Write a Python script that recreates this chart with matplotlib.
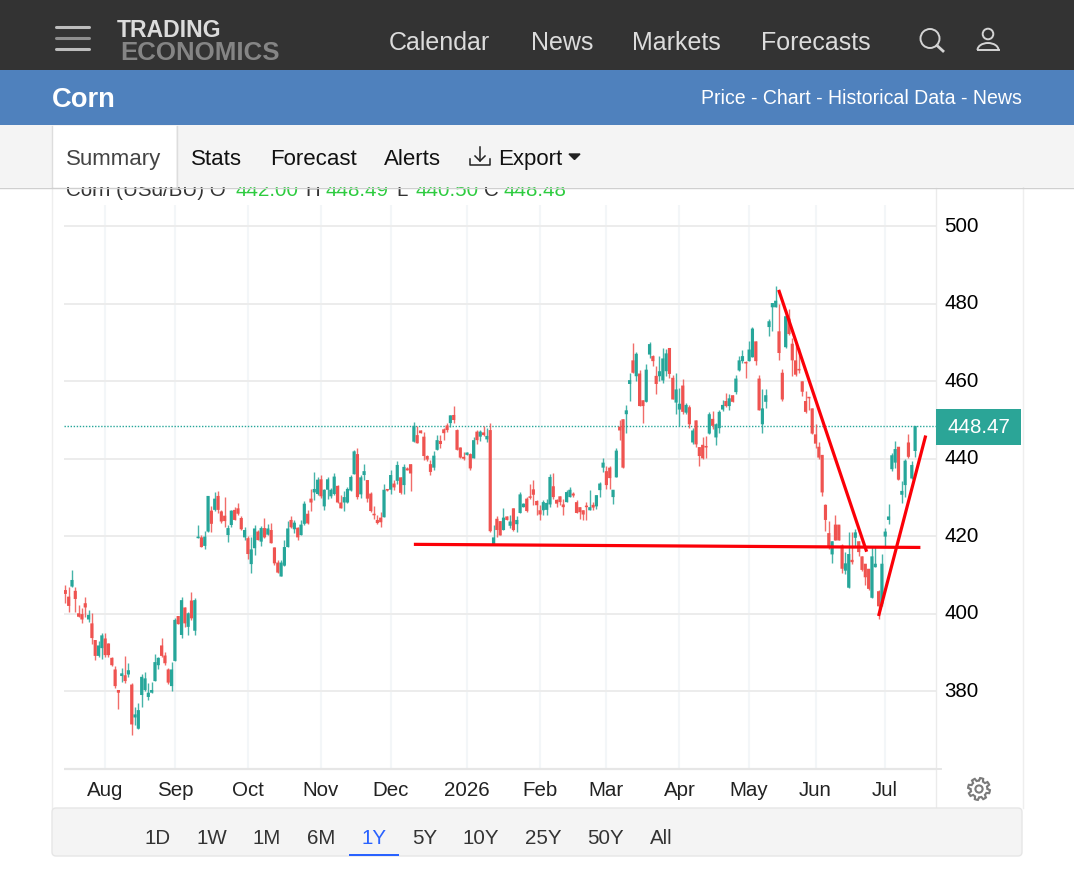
import numpy as np
import matplotlib
matplotlib.use("Agg")
import matplotlib.pyplot as plt
from matplotlib.patches import Rectangle, FancyBboxPatch, Circle, Arc, Polygon
from matplotlib.transforms import ScaledTranslation

plt.rcParams['font.family'] = ['Liberation Sans', 'DejaVu Sans']

#Daily candles
opens = [406.1, 404.4, 407.0, 405.9, 400.1, 399.9, 402.7, 398.5, 397.5, 393.2,
         389.1, 391.1, 393.6, 392.3, 388.6, 385.6, 380.3, 383.9, 384.1, 384.3,
         381.7, 373.2, 370.3, 379.0, 380.3, 378.5, 379.6, 382.6, 386.7, 391.8,
         389.2, 385.6, 381.3, 387.8, 399.4, 394.5, 401.6, 396.6, 403.4, 395.6,
         419.5, 419.7, 417.5, 421.2, 426.6, 426.8, 430.4, 426.4, 425.3, 420.3,
         422.9, 426.8, 427.2, 424.7, 419.7, 419.5, 412.8, 416.9, 421.2, 418.6,
         422.1, 420.4, 421.6, 417.1, 413.2, 409.6, 412.4, 417.2, 424.2, 421.8,
         422.2, 420.3, 423.2, 425.8, 429.7, 431.3, 430.9, 434.7, 427.7, 432.0,
         430.3, 430.9, 433.0, 428.7, 428.7, 428.7, 431.8, 436.0,
         441.2, 430.8, 435.8, 434.5, 431.0, 425.8, 424.2, 424.8, 424.9, 432.0,
         432.0, 433.6, 434.3, 435.2, 433.2, 437.5, 438.6, 444.4, 446.1, 447.3,
         445.7, 440.7, 438.6, 437.7, 442.3, 444.6, 447.6, 448.6, 449.2, 451.3,
         447.4, 442.9, 440.5, 441.0, 441.2, 440.1, 447.0, 445.7, 446.8, 445.0,
         447.4, 417.8, 424.5, 423.9, 421.6, 425.1, 422.7, 427.2, 423.1, 426.0,
         427.5, 429.7, 430.0, 432.1, 429.1, 426.7, 426.7, 426.8, 428.2, 432.9,
         429.4, 430.3, 428.2, 428.8, 430.1, 431.0, 428.8, 427.5, 426.7, 427.7, 426.7,
         428.1, 427.7, 431.9, 437.7, 436.8, 437.7, 430.1, 435.2, 448.3, 450.2,
         451.5, 459.3, 465.4, 461.3, 462.0, 455.1, 454.7, 466.9, 466.5, 461.4,
         461.3, 460.2, 462.6, 468.6, 460.9, 454.5, 452.7, 458.9, 451.9, 453.3,
         444.2, 449.9, 443.0, 443.6, 443.1, 446.5, 450.3, 445.5, 447.9, 452.7,
         454.9, 453.6, 456.4, 457.2, 462.8, 465.2, 464.8, 465.2, 466.2, 470.3,
         460.7, 448.9, 454.7, 474.0, 479.1, 479.1, 472.9, 462.2, 468.8, 476.2,
         469.7, 465.4, 463.0, 460.0, 454.9, 456.0, 453.0, 446.3, 443.1, 441.0,
         428.1, 420.8, 415.3, 423.0, 423.0, 417.6, 411.1, 406.7, 413.9, 419.6,
         418.7, 414.8, 412.9, 411.6, 404.1, 412.0, 405.8, 402.6, 419.9, 424.2,
         437.3, 439.0, 443.1, 430.7, 433.2, 444.2, 434.9, 442.0]
closes = [405.1, 402.0, 408.7, 403.8, 399.2, 398.5, 401.6, 399.7, 393.7, 389.1,
          391.8, 394.4, 389.3, 389.3, 386.7, 381.3, 379.6, 384.6, 382.6, 385.4,
          371.4, 374.0, 375.1, 383.7, 383.3, 379.6, 380.3, 387.5, 388.6, 389.1,
          387.2, 382.2, 385.6, 398.4, 397.3, 403.5, 397.5, 400.1, 398.8, 403.5,
          419.9, 417.2, 419.9, 430.4, 423.2, 429.7, 426.8, 423.8, 423.9, 422.1,
          426.6, 424.2, 425.8, 421.8, 421.6, 415.4, 416.6, 422.0, 419.0, 422.1,
          419.7, 422.0, 418.2, 413.0, 410.6, 413.2, 417.2, 422.0, 422.3, 423.5,
          419.7, 423.0, 428.4, 423.3, 428.7, 432.2, 434.6, 430.3, 432.0, 434.7,
          432.0, 435.4, 428.7, 427.2, 430.1, 432.2, 435.3, 441.9,
          430.1, 435.2, 436.8, 429.7, 426.5, 425.4, 423.4, 423.6, 432.0, 431.8,
          435.8, 432.6, 438.4, 431.2, 437.9, 437.0, 436.2, 448.5, 444.0, 446.6,
          440.7, 439.8, 436.6, 440.8, 444.8, 443.8, 446.6, 447.4, 451.2, 450.0,
          442.3, 440.3, 440.0, 441.6, 437.5, 444.8, 444.8, 447.0, 446.1, 445.9,
          421.3, 419.7, 421.6, 420.2, 424.8, 424.2, 423.8, 421.6, 424.2, 430.8,
          428.4, 426.5, 429.9, 430.7, 428.0, 425.6, 428.8, 428.6, 435.3, 430.1,
          428.4, 428.8, 427.5, 431.4, 432.0, 430.5, 426.0, 426.2, 425.6, 427.5, 427.5,
          427.4, 430.6, 433.6, 439.0, 433.2, 435.0, 432.0, 442.1, 447.3, 437.7,
          452.5, 460.3, 462.2, 467.1, 453.6, 453.6, 463.0, 469.6, 465.2, 459.3,
          462.6, 465.9, 467.2, 461.9, 455.3, 457.9, 454.2, 452.1, 453.9, 448.9,
          447.3, 443.7, 440.7, 440.1, 442.9, 451.5, 448.5, 448.9, 452.1, 453.9,
          453.6, 455.6, 454.7, 460.7, 465.4, 466.5, 464.6, 468.2, 473.6, 465.2,
          452.5, 453.0, 456.4, 475.5, 480.2, 480.8, 467.3, 455.3, 476.8, 472.2,
          465.4, 461.7, 462.8, 457.3, 452.1, 455.6, 446.5, 443.9, 440.3, 431.3,
          424.2, 417.2, 418.7, 418.9, 418.9, 411.6, 413.0, 415.4, 413.3, 421.0,
          415.9, 411.3, 409.4, 406.4, 414.8, 412.9, 401.9, 412.9, 421.2, 425.1,
          440.9, 442.5, 434.6, 431.7, 439.5, 440.5, 438.4, 448.48]
highs = [407.3, 406.8, 411.3, 406.8, 402.2, 401.4, 404.4, 400.9, 400.1, 393.2,
         393.0, 395.1, 395.1, 392.5, 388.9, 386.5, 380.3, 386.1, 389.2, 387.2,
         382.0, 375.9, 377.0, 384.4, 385.0, 382.0, 382.4, 389.7, 388.9, 393.6,
         390.2, 386.0, 387.5, 398.8, 399.4, 404.2, 401.6, 400.5, 405.6, 404.0,
         422.8, 420.3, 421.4, 430.4, 427.7, 431.3, 431.6, 426.8, 430.1, 422.9,
         426.8, 427.5, 428.5, 425.3, 422.5, 420.1, 419.9, 422.8, 421.6, 422.7,
         424.7, 423.2, 423.5, 417.2, 413.9, 413.9, 418.9, 423.8, 425.1, 424.2,
         422.5, 424.2, 429.0, 426.8, 432.2, 436.6, 435.4, 435.8, 432.2, 435.4,
         432.4, 436.3, 433.3, 430.7, 431.6, 432.8, 435.9, 442.2,
         442.9, 435.8, 438.6, 434.6, 431.4, 427.7, 425.4, 426.2, 433.6, 432.2,
         437.2, 434.6, 439.5, 435.3, 438.6, 437.8, 438.6, 449.4, 448.5, 447.3,
         446.8, 440.9, 439.7, 442.0, 446.1, 446.1, 447.9, 449.2, 451.3, 453.5,
         447.6, 443.0, 441.8, 441.8, 441.4, 445.5, 447.4, 447.4, 448.5, 447.9,
         449.2, 423.0, 425.1, 423.9, 427.4, 425.1, 425.6, 427.2, 425.1, 431.4,
         428.6, 430.1, 433.6, 434.5, 429.3, 428.0, 429.3, 429.7, 436.0, 436.2,
         429.7, 430.3, 429.7, 431.9, 432.7, 431.4, 429.4, 427.5, 426.7, 428.8, 431.9,
         428.8, 430.6, 434.0, 440.1, 438.1, 438.1, 432.0, 442.7, 449.9, 450.2,
         453.9, 462.2, 469.8, 467.6, 463.0, 455.1, 464.5, 470.1, 466.7, 463.9,
         466.5, 468.6, 468.4, 468.6, 461.7, 462.2, 458.3, 460.7, 454.5, 454.0,
         448.0, 449.9, 443.1, 445.6, 445.9, 452.1, 452.3, 449.1, 452.5, 455.1,
         456.9, 456.8, 456.4, 461.7, 466.5, 468.2, 465.2, 470.5, 473.9, 470.3,
         461.7, 457.9, 457.9, 476.2, 480.3, 484.5, 480.0, 463.2, 478.5, 478.7,
         471.2, 469.5, 468.6, 460.0, 457.5, 456.0, 453.0, 448.9, 444.2, 441.0,
         428.3, 423.8, 418.7, 425.6, 423.0, 418.0, 415.9, 421.0, 421.0, 421.9,
         418.7, 414.8, 412.9, 411.6, 417.2, 417.6, 406.0, 415.4, 422.1, 428.3,
         441.6, 444.6, 443.1, 434.3, 439.9, 446.5, 439.4, 448.49]
lows = [402.8, 400.5, 407.0, 400.5, 399.2, 397.7, 399.2, 397.9, 392.3, 388.0,
        388.9, 388.4, 388.9, 388.7, 386.5, 380.7, 375.3, 382.4, 382.2, 383.7,
        368.8, 371.2, 370.3, 375.9, 380.0, 377.8, 379.4, 382.6, 385.8, 388.9,
        386.7, 381.8, 380.0, 387.8, 397.3, 393.7, 396.6, 394.4, 398.4, 394.4,
        419.5, 417.2, 416.8, 421.2, 421.0, 426.4, 425.9, 423.5, 422.5, 418.6,
        422.3, 424.2, 425.5, 421.5, 419.0, 414.0, 410.6, 415.2, 419.0, 417.6,
        419.5, 420.4, 418.2, 412.6, 410.6, 409.6, 412.2, 417.2, 422.1, 420.8,
        418.9, 420.3, 422.9, 423.1, 426.4, 429.4, 430.7, 429.8, 426.8, 429.6,
        429.8, 430.7, 428.7, 427.2, 426.6, 428.7, 431.8, 436.0,
        429.7, 429.9, 434.6, 428.8, 426.2, 424.5, 423.2, 422.3, 424.9, 431.8,
        431.0, 431.9, 433.6, 431.0, 431.0, 437.0, 431.8, 444.4, 444.0, 446.6,
        439.7, 439.5, 435.8, 437.2, 442.3, 442.7, 444.8, 447.0, 448.1, 449.2,
        442.3, 440.1, 439.8, 441.0, 437.2, 440.1, 443.8, 444.7, 445.9, 444.2,
        421.0, 417.8, 419.7, 420.2, 421.6, 424.2, 422.2, 421.3, 421.2, 426.0,
        427.5, 426.2, 429.7, 428.0, 425.4, 424.2, 425.6, 425.4, 427.5, 429.7,
        427.5, 428.0, 425.4, 428.8, 430.1, 430.1, 426.0, 424.5, 424.2, 424.2, 426.7,
        426.7, 427.0, 430.0, 436.6, 432.3, 432.3, 428.2, 435.2, 444.8, 437.7,
        446.7, 454.9, 462.2, 460.2, 453.6, 449.3, 454.7, 466.0, 463.9, 456.6,
        460.0, 459.6, 461.3, 460.9, 455.3, 451.5, 448.5, 451.5, 451.5, 448.0,
        443.7, 443.0, 438.2, 439.9, 440.3, 446.5, 447.6, 443.6, 446.7, 452.3,
        453.3, 452.5, 454.7, 456.8, 462.6, 464.8, 460.9, 465.2, 466.2, 464.3,
        452.5, 446.7, 453.2, 471.6, 472.9, 479.1, 465.4, 455.0, 468.6, 472.0,
        461.3, 461.3, 462.2, 456.2, 451.9, 452.7, 446.5, 442.9, 439.9, 430.4,
        421.4, 416.7, 413.0, 418.9, 418.9, 410.5, 410.3, 406.7, 412.9, 417.2,
        415.0, 411.1, 407.3, 406.0, 404.1, 412.0, 398.7, 402.1, 417.2, 423.2,
        436.9, 437.7, 434.6, 428.7, 430.0, 440.3, 434.7, 440.5]

month_pos = [12, 33, 55, 77, 98, 121, 143, 163, 185, 206, 226, 247]
month_labels = ['Aug', 'Sep', 'Oct', 'Nov', 'Dec', '2026', 'Feb', 'Mar', 'Apr', 'May', 'Jun', 'Jul']
price_ticks = [380, 400, 420, 440, 460, 480, 500]
last_price = 448.47

#The hand drawn red lines
support_x = [105, 257.6]
support_y = [417.9, 417.1]
fall_x = [214.9, 241.4]
fall_y = [483.6, 416.0]
rise_x = [245, 259.2]
rise_y = [399.4, 446.0]

nav_items = ['Calendar', 'News', 'Markets', 'Forecasts']
nav_pos = [389, 531, 632, 761]
tab_items = ['Stats', 'Forecast', 'Alerts', 'Export']
tab_pos = [191, 270, 384, 498]
range_items = ['1D', '1W', '1M', '6M', '1Y', '5Y', '10Y', '25Y', '50Y', 'All']
range_pos = [158, 212, 267, 321, 374, 425, 481, 543, 605, 661]

teal = '#26a69a'
red = '#ef5350'
W, H = 1074, 891

fig = plt.figure(figsize=(W / 100, H / 100), dpi=100, facecolor='white')

#Chart axes, sits at pixels 64-936 / 188-769
ax = fig.add_axes([64 / W, 1 - 769 / H, (936 - 64) / W, (769 - 188) / H], zorder=1)
ax.set_xlim(-0.4, 262.3)
ax.set_ylim(359.9, 509.9)
ax.set_facecolor('none')
for side in ['top', 'left', 'right']:
    ax.spines[side].set_visible(False)
ax.spines['bottom'].set_color('#e6e6e6')
ax.spines['bottom'].set_linewidth(1.6)
ax.spines['bottom'].set_capstyle('butt')

ax.set_yticks(price_ticks)
ax.yaxis.tick_right()
ax.set_xticks(month_pos)
ax.set_xticklabels(month_labels)
ax.tick_params(axis='y', length=0, pad=6, labelsize=14.8, labelcolor='#000000')
ax.tick_params(axis='x', length=0, pad=9, labelsize=14.8, labelcolor='#222222')
ax.grid(axis='y', color='#ececec', linewidth=1.4, zorder=0)
ax.grid(axis='x', color='#f3f6f8', linewidth=1.5, zorder=0)
ax.set_axisbelow(True)
#labels sit a little above their grid lines
lift = ScaledTranslation(0, 2 / 100, fig.dpi_scale_trans)
for lab in ax.get_yticklabels():
    lab.set_transform(lab.get_transform() + lift)

#Candles
for i in range(len(opens)):
    col = teal if closes[i] >= opens[i] else red
    ax.vlines(i, lows[i], highs[i], color=col, linewidth=1.0, alpha=0.85, zorder=3)
    ax.bar(i, max(abs(closes[i] - opens[i]), 0.4), bottom=min(opens[i], closes[i]),
           width=0.95, color=col, linewidth=0, zorder=4, snap=False)

ax.axhline(last_price, color=teal, linewidth=1, linestyle=(0, (1, 1.2)), zorder=2)

for xs, ys in [(support_x, support_y), (fall_x, fall_y), (rise_x, rise_y)]:
    ax.plot(xs, ys, color='#fb0007', linewidth=2.3, solid_capstyle='butt', zorder=6, clip_on=False)

#Page furniture, in pixel coordinates
page = fig.add_axes([0, 0, 1, 1], zorder=2)
page.set_xlim(0, W)
page.set_ylim(H, 0)
page.axis('off')
page.patch.set_alpha(0)


def box(x0, y0, x1, y1, color, z=1):
    page.add_patch(Rectangle((x0, y0), x1 - x0, y1 - y0, facecolor=color, edgecolor='none', zorder=z))


#vertical grid lines only start below the OHLC line
box(60, 188, 935, 205, 'white', 0.5)

#panel borders and the OHLC line that gets cut by the tab bar
page.plot([51.5, 51.5], [187, 808], color='#eeeeee', lw=1, zorder=1)
page.plot([1022.5, 1022.5], [187, 808], color='#eeeeee', lw=1, zorder=1)
page.plot([936, 936], [188, 768], color='#ebebeb', lw=1, zorder=1)
page.plot([936, 936], [770, 807], color='#ebebeb', lw=1, zorder=1)
page.plot([936, 941], [769, 769], color='#e6e6e6', lw=1.4, zorder=1)

ohlc = [(66, 'Corn (USd/BU) O', '#333333'), (235, '442.00', '#2ecc40'), (305, 'H', '#333333'),
        (325, '448.49', '#2ecc40'), (396, 'L', '#333333'), (415, '440.50', '#2ecc40'),
        (484, 'C', '#333333'), (503, '448.48', '#2ecc40')]
for x0, s, c in ohlc:
    page.text(x0, 196, s, fontsize=14.8, color=c, va='baseline', ha='left', zorder=1)

#bands across the top
box(0, 0, W, 70, '#333333', 3)
box(0, 70, W, 125, '#4f81bd', 3)
box(0, 125, W, 187, '#f4f4f4', 3)
box(52, 126, 176, 187, '#ffffff', 4)
page.plot([51.5, 51.5], [126, 187], color='#dddddd', lw=1, zorder=5)
page.plot([176.5, 176.5], [126, 187], color='#dddddd', lw=1, zorder=5)
page.plot([0, W], [187.5, 187.5], color='#cfcfcf', lw=1, zorder=5)

for y0, c in [(27, '#bdbdbd'), (38, '#8f8f8f'), (49, '#bdbdbd')]:
    page.plot([56, 89], [y0, y0], color=c, lw=2.2, solid_capstyle='round', zorder=6)
page.text(117, 37, 'TRADING', fontsize=16.6, fontweight='bold', color='#dcdcdc', va='baseline', zorder=6)
page.text(120, 59.5, 'ECONOMICS', fontsize=18.6, fontweight='bold', color='#858585', va='baseline', zorder=6)
for s, x0 in zip(nav_items, nav_pos):
    page.text(x0, 50, s, fontsize=18, color='#dcdcdc', va='baseline', zorder=6)

#search and user icons
page.add_patch(Circle((930, 38.5), 9.5, fill=False, edgecolor='#d4d4d4', lw=1.4, zorder=6))
page.plot([937, 943], [45.5, 51], color='#d4d4d4', lw=2, zorder=6)
page.add_patch(Circle((988, 34), 5.3, fill=False, edgecolor='#d4d4d4', lw=1.4, zorder=6))
page.add_patch(Arc((988, 50), 21, 14, theta1=180, theta2=360, edgecolor='#d4d4d4', lw=1.4, zorder=6))
page.plot([977.5, 998.5], [50, 50], color='#d4d4d4', lw=1.4, zorder=6)

page.text(52, 107, 'Corn', fontsize=19.7, fontweight='bold', color='white', va='baseline', zorder=6)
page.text(1022, 104, 'Price - Chart - Historical Data - News', fontsize=14.05, color='white',
          ha='right', va='baseline', zorder=6)

page.text(66, 165, 'Summary', fontsize=16, color='#444444', va='baseline', zorder=6)
for s, x0 in zip(tab_items, tab_pos):
    page.text(x0, 165, s, fontsize=16, color='#111111', va='baseline', zorder=6)
#export glyph
page.plot([480, 480], [147, 161], color='#222222', lw=1.1, zorder=6)
page.plot([475, 480, 485], [156, 161, 156], color='#222222', lw=1.1, zorder=6)
page.plot([470, 470, 490, 490], [159, 165, 165, 159], color='#222222', lw=1.1, zorder=6)
page.fill([569, 580, 574.5], [154, 154, 159.5], color='#222222', zorder=6)

#price tag
box(936, 409, 1021, 445, '#2ba597', 3)
page.text(978.5, 427.5, '%.2f' % last_price, fontsize=14.8, color='white', ha='center', va='center', zorder=6)

#gear outline
ang = np.linspace(0, 2 * np.pi, 64, endpoint=False) + np.pi / 8 / 4
rad = np.where((np.arange(64) % 8) < 4, 11, 8.3)
page.add_patch(Polygon(np.c_[979 + rad * np.cos(ang), 789 + rad * np.sin(ang)], closed=True,
                       fill=False, edgecolor='#7a7a7a', lw=1.5, zorder=6))
page.add_patch(Circle((979, 789), 3.6, fill=False, edgecolor='#7a7a7a', lw=1.5, zorder=6))

#range bar
page.add_patch(FancyBboxPatch((52, 808), 970, 48, boxstyle='round,pad=0,rounding_size=4',
                              facecolor='#f4f4f4', edgecolor='#e6e6e6', lw=1, zorder=3))
for s, x0 in zip(range_items, range_pos):
    c = '#2962ff' if s == '1Y' else '#333333'
    page.text(x0, 844, s, fontsize=14.8, color=c, ha='center', va='baseline', zorder=6)
box(349, 854, 399, 856, '#2962ff', 6)

fig.savefig('out.png', dpi=100)
